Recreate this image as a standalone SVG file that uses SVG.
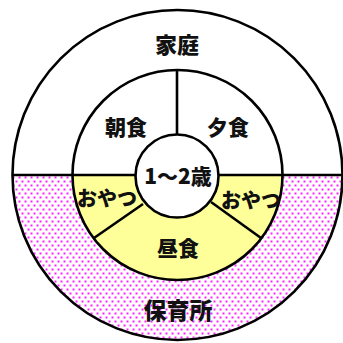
<svg xmlns="http://www.w3.org/2000/svg" width="343" height="343" viewBox="0 0 343 343">
<style>
.ln{fill:none;stroke:#000;stroke-width:2.6}
.t{font-family:"Noto Sans CJK JP","Noto Sans",sans-serif;font-weight:900;fill:#111;text-anchor:middle;dominant-baseline:central}
</style>
<defs>
<pattern id="dots" x="0" y="0" width="6" height="8" patternUnits="userSpaceOnUse">
<rect width="6" height="8" fill="#fff"/>
<rect x="0.5" y="0.5" width="2" height="2" fill="#ff22ff"/>
<rect x="3.5" y="4.5" width="2" height="2" fill="#ff22ff"/>
</pattern>
</defs>
<rect width="343" height="343" fill="#fff"/>
<g id="home">
<path d="M12.5 175 A165 165 0 0 1 342.5 175 Z" fill="#fff"/>
</g>
<g id="nursery">
<path d="M12.5 175 A165 165 0 0 0 342.5 175 Z" fill="url(#dots)"/>
</g>
<g id="middle">
<path d="M72.5 175 A105 105 0 0 1 282.5 175 Z" fill="#fff"/>
<path d="M72.5 175 A105 105 0 0 0 282.5 175 Z" fill="#ffff99"/>
</g>
<g id="connectors">
<circle class="ln" cx="177.5" cy="175" r="165"/>
<circle class="ln" cx="177.5" cy="175" r="105"/>
<line class="ln" x1="12.5" y1="175" x2="342.5" y2="175"/>
<line class="ln" x1="177" y1="71" x2="177" y2="135"/>
<line class="ln" x1="143" y1="204" x2="94" y2="238"/>
<line class="ln" x1="211" y1="202" x2="261" y2="238"/>
</g>
<g id="center">
<circle cx="177" cy="176" r="41.5" fill="#fff" stroke="#000" stroke-width="2.6"/>
<text class="t" x="178" y="175" font-size="21">1～2歳</text>
</g>
<g id="label-home"><text class="t" x="177" y="43" font-size="22">家庭</text></g>
<g id="label-breakfast"><text class="t" x="126" y="126" font-size="21">朝食</text></g>
<g id="label-dinner"><text class="t" x="228" y="126" font-size="21">夕食</text></g>
<g id="label-snack-left"><text class="t" x="107" y="197" font-size="20">おやつ</text></g>
<g id="label-snack-right"><text class="t" x="251" y="199" font-size="20">おやつ</text></g>
<g id="label-lunch"><text class="t" x="178" y="247" font-size="21">昼食</text></g>
<g id="label-nursery"><text class="t" x="178" y="309" font-size="23">保育所</text></g>
</svg>
